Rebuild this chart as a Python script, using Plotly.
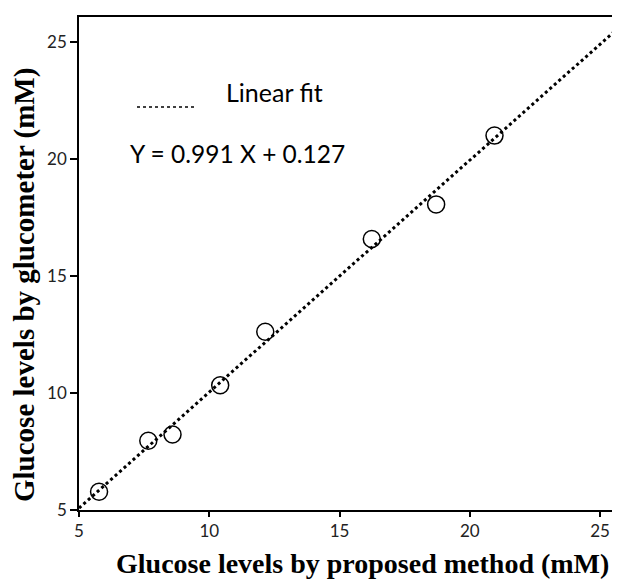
import plotly.graph_objects as go

# Data
proposed = [5.77, 7.66, 8.59, 10.42, 12.15, 16.24, 18.71, 20.95]
glucometer = [5.78, 7.96, 8.23, 10.33, 12.62, 16.58, 18.06, 21.00]
slope = 0.991
intercept = 0.127
fit_x = [5.0, 26.0]
fit_y = [slope * v + intercept for v in fit_x]
x_ticks = [5, 10, 15, 20, 25]
y_ticks = [5, 10, 15, 20, 25]
x_title = "Glucose levels by proposed method (mM)"
y_title = "Glucose levels by glucometer (mM)"

fig = go.Figure()
fig.add_trace(go.Scatter(x=fit_x, y=fit_y, mode="lines",
                         line=dict(color="black", width=3, dash="dot"),
                         showlegend=False, cliponaxis=True))
fig.add_trace(go.Scatter(x=proposed, y=glucometer, mode="markers",
                         marker=dict(symbol="circle-open", size=17,
                                     color="black", line=dict(width=1.5)),
                         showlegend=False))

PW, PH = 541, 493  # plot area size in px

# Legend-like entry and equation
fig.add_shape(type="line", xref="paper", yref="paper",
              x0=(137 - 79) / PW, x1=(195 - 79) / PW,
              y0=(510 - 107) / PH, y1=(510 - 107) / PH,
              line=dict(color="black", width=1.5, dash="dot"))
fig.add_annotation(text="Linear fit", xref="paper", yref="paper",
                   x=(224 - 79) / PW, y=(510 - 92) / PH,
                   xanchor="left", yanchor="middle", showarrow=False,
                   font=dict(family="Lato, Open Sans, sans-serif", size=25, color="black"))
fig.add_annotation(text=f"Y = {slope} X + {intercept}", xref="paper", yref="paper",
                   x=(128 - 79) / PW, y=(510 - 153) / PH,
                   xanchor="left", yanchor="middle", showarrow=False,
                   font=dict(family="Lato, Open Sans, sans-serif", size=24.5, color="black"))

# Axis titles (placed as annotations to match reference offsets)
fig.add_annotation(text=f"<b>{x_title}</b>", xref="paper", yref="paper",
                   x=(362 - 79) / PW, y=0, yshift=-53,
                   xanchor="center", yanchor="middle", showarrow=False,
                   font=dict(family="Liberation Serif, Times New Roman, serif",
                             size=28, color="black"))
fig.add_annotation(text=f"<b>{y_title}</b>", xref="paper", yref="paper",
                   x=0, xshift=-54, y=(510 - 285) / PH, textangle=-90,
                   xanchor="center", yanchor="middle", showarrow=False,
                   font=dict(family="Liberation Serif, Times New Roman, serif",
                             size=29, color="black"))

axis_common = dict(showgrid=False, zeroline=False, showline=True, linecolor="black",
                   linewidth=1.5, mirror=True, ticks="outside", tickcolor="black",
                   tickwidth=1.5, automargin=False,
                   tickfont=dict(family="Lato, Open Sans, sans-serif", size=17, color="#222"))

# page body has an 8px default margin; the figure is sized to compensate
fig.update_layout(
    width=612, height=571,
    margin=dict(l=71, r=0, t=9, b=69),
    paper_bgcolor="white", plot_bgcolor="white",
    xaxis=dict(range=[5, 5 + PW / 26.05], tickvals=x_ticks, ticklen=5, **axis_common),
    yaxis=dict(range=[5, 5 + PH / 23.4], tickvals=y_ticks, ticklen=7, **axis_common),
)

fig.write_html("out.html")
